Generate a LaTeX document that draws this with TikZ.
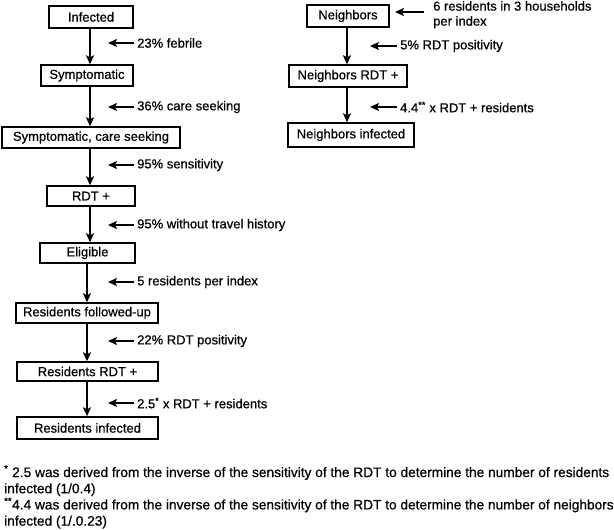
\documentclass[tikz,border=0pt]{standalone}
\usepackage{fontspec}
\setmainfont{Liberation Sans}[FakeBold=0.6]
\usetikzlibrary{arrows.meta}
\begin{document}
\begin{tikzpicture}[x=1pt,y=-1pt,
  box/.style={draw=black,line width=1.4pt,inner sep=0pt,font=\fontsize{13}{15}\selectfont},
  lbl/.style={inner sep=0pt,anchor=west,font=\fontsize{13}{15}\selectfont},
  down/.style={line width=1.8pt,-{Stealth[width=8pt,length=9pt,inset=2pt]}},
  side/.style={line width=1.8pt,-{Stealth[width=8pt,length=9pt,inset=2pt]}}]
\useasboundingbox (0,0) rectangle (614,530);
% column coordinates
\coordinate (cA) at (90,0);
\coordinate (cB) at (87,0);
\coordinate (cC) at (347,0);
% left column boxes
\node[box,minimum width=84pt,minimum height=22pt] (inf) at (91,17) {Infected};
\node[box,minimum width=92pt,minimum height=21pt] (sym) at (87,75.5) {Symptomatic};
\node[box,minimum width=178pt,minimum height=21pt] (care) at (91,137.5) {Symptomatic, care seeking};
\node[box,minimum width=88pt,minimum height=20pt] (rdt) at (91,196) {RDT +};
\node[box,minimum width=95pt,minimum height=20pt] (elig) at (87.5,253) {Eligible};
\node[box,minimum width=142pt,minimum height=20pt] (fol) at (87,313) {Residents followed-up};
\node[box,minimum width=141pt,minimum height=19pt] (rrdt) at (87.5,371.5) {Residents RDT +};
\node[box,minimum width=141pt,minimum height=22pt] (rinf) at (87.5,428) {Residents infected};
% right column boxes
\node[box,minimum width=82pt,minimum height=22pt] (nb) at (348,16) {Neighbors};
\node[box,minimum width=118pt,minimum height=22pt] (nrdt) at (348,76) {Neighbors RDT +};
\node[box,minimum width=126pt,minimum height=24pt] (ninf) at (351,135) {Neighbors infected};
% down arrows
\draw[down] (inf.south -| cA) -- (sym.north -| cA);
\draw[down] (sym.south -| cA) -- (care.north -| cA);
\draw[down] (care.south -| cA) -- (rdt.north -| cA);
\draw[down] (rdt.south -| cA) -- (elig.north -| cA);
\draw[down] (elig.south -| cB) -- (fol.north -| cB);
\draw[down] (fol.south -| cB) -- (rrdt.north -| cB);
\draw[down] (rrdt.south -| cB) -- (rinf.north -| cB);
\draw[down] (nb.south -| cC) -- (nrdt.north -| cC);
\draw[down] (nrdt.south -| cC) -- (ninf.north -| cC);
% side labels
\node[lbl] (l1) at (137,43) {23\% febrile};
\node[lbl] (l2) at (137,107) {36\% care seeking};
\node[lbl] (l3) at (137,165) {95\% sensitivity};
\node[lbl] (l4) at (137,225) {95\% without travel history};
\node[lbl] (l5) at (137,282) {5 residents per index};
\node[lbl] (l6) at (137,341) {22\% RDT positivity};
\node[lbl] (l7) at (137,403) {2.5\textsuperscript{*} x RDT + residents};
\node[lbl] (l8) at (400,46) {5\% RDT positivity};
\node[lbl] (l9) at (400,107) {4.4\textsuperscript{**} x RDT + residents};
\node[lbl,align=left,anchor=north west,font=\fontsize{13}{15}\selectfont] (l10) at (433,1) {6 residents in 3 households\\per index};
\coordinate (e1) at (108,43);
\coordinate (e2) at (108,107);
\coordinate (e3) at (108,165);
\coordinate (e4) at (108,225);
\coordinate (e5) at (108,282);
\coordinate (e6) at (108,341);
\coordinate (e7) at (108,403);
\coordinate (e8) at (370,46);
\coordinate (e9) at (370,107);
\coordinate (e10) at (395,12);
\coordinate (s10) at (424,12);
\draw[side] ([xshift=-3pt]l1.west) -- (e1);
\draw[side] ([xshift=-3pt]l2.west) -- (e2);
\draw[side] ([xshift=-3pt]l3.west) -- (e3);
\draw[side] ([xshift=-3pt]l4.west) -- (e4);
\draw[side] ([xshift=-3pt]l5.west) -- (e5);
\draw[side] ([xshift=-3pt]l6.west) -- (e6);
\draw[side] ([xshift=-3pt]l7.west) -- (e7);
\draw[side] ([xshift=-3pt]l8.west) -- (e8);
\draw[side] ([xshift=-3pt]l9.west) -- (e9);
\draw[side] (s10) -- (e10);
% footnotes
\node[inner sep=0pt,anchor=north west,align=left,font=\fontsize{13.7}{16.2}\selectfont] (fn) at (4,465)
{\textsuperscript{*} 2.5 was derived from the inverse of the sensitivity of the RDT to determine the number of residents\\
infected (1/0.4)\\
\textsuperscript{**}4.4 was derived from the inverse of the sensitivity of the RDT to determine the number of neighbors\\
infected (1/.0.23)};
\end{tikzpicture}
\end{document}
